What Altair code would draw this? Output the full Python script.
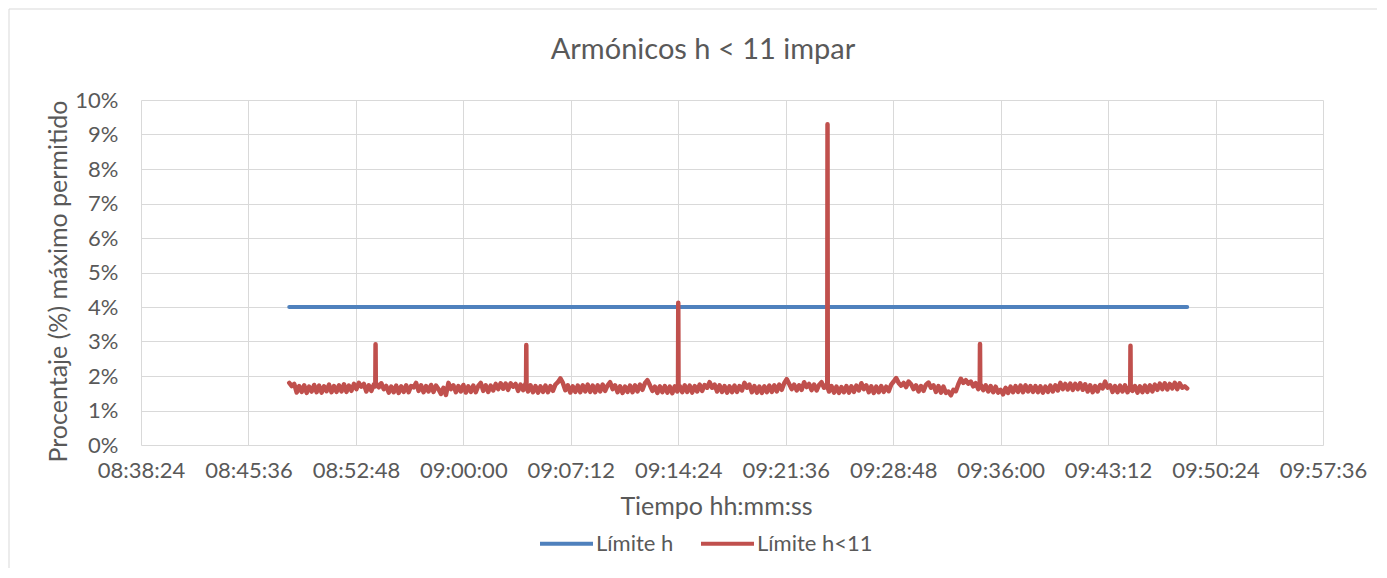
import altair as alt
import pandas as pd

# ---------------- texts ----------------
title_text = "Armónicos h < 11 impar"
x_title = "Tiempo hh:mm:ss"
y_title = "Procentaje (%) máximo permitido"
series_names = ["Límite h", "Límite h<11"]
series_colors = ["#4F81BD", "#C0504D"]

# ---------------- axes ----------------
x_ticks = ["08:38:24", "08:45:36", "08:52:48", "09:00:00", "09:07:12", "09:14:24",
           "09:21:36", "09:28:48", "09:36:00", "09:43:12", "09:50:24", "09:57:36"]
y_ticks = [0, 1, 2, 3, 4, 5, 6, 7, 8, 9, 10]

# ---------------- series: Límite h ----------------
limit_times = ["08:48:20", "09:48:30"]
limit_values = [4.0, 4.0]

# ---------------- series: Límite h<11 (sampled every 10 s) ----------------
red_start = "08:48:20"
red_step_s = 10
red_values = [
    1.80, 1.71, 1.77, 1.52, 1.71, 1.54, 1.73, 1.51, 1.69, 1.55, 1.74, 1.53, 1.72, 1.52, 1.70, 1.56, 1.75, 1.53, 1.71, 1.54, 1.73, 1.55, 1.76, 1.54, 1.72, 1.57, 1.77, 1.62, 1.80, 1.69,
    1.77, 1.55, 1.73, 1.57, 1.75, 1.78, 1.67, 1.79, 1.62, 1.71, 1.52, 1.69, 1.53, 1.72, 1.51, 1.70, 1.54, 1.73, 1.53, 1.71, 1.67, 1.80, 1.57, 1.73, 1.53, 1.71, 1.55, 1.74, 1.54, 1.72,
    1.62, 1.48, 1.66, 1.45, 1.80, 1.62, 1.73, 1.53, 1.71, 1.55, 1.74, 1.52, 1.70, 1.54, 1.72, 1.53, 1.71, 1.80, 1.57, 1.73, 1.54, 1.72, 1.58, 1.77, 1.62, 1.79, 1.63, 1.78, 1.60, 1.79,
    1.69, 1.77, 1.57, 1.75, 1.59, 1.78, 1.55, 1.73, 1.53, 1.71, 1.52, 1.70, 1.54, 1.72, 1.53, 1.71, 1.57, 1.75, 1.82, 1.93, 1.80, 1.59, 1.73, 1.52, 1.70, 1.54, 1.72, 1.53, 1.73, 1.55,
    1.75, 1.54, 1.72, 1.53, 1.73, 1.55, 1.75, 1.57, 1.73, 1.82, 1.62, 1.73, 1.53, 1.70, 1.51, 1.69, 1.54, 1.72, 1.53, 1.73, 1.55, 1.75, 1.60, 1.79, 1.88, 1.73, 1.57, 1.69, 1.51, 1.70,
    1.53, 1.71, 1.52, 1.69, 1.50, 1.70, 1.55, 1.71, 1.53, 1.73, 1.54, 1.72, 1.52, 1.71, 1.55, 1.75, 1.57, 1.74, 1.66, 1.82, 1.66, 1.75, 1.55, 1.73, 1.54, 1.71, 1.52, 1.70, 1.53, 1.72,
    1.54, 1.71, 1.58, 1.80, 1.66, 1.75, 1.53, 1.71, 1.52, 1.69, 1.51, 1.70, 1.53, 1.72, 1.54, 1.73, 1.55, 1.75, 1.60, 1.79, 1.91, 1.77, 1.62, 1.75, 1.58, 1.73, 1.60, 1.82, 1.68, 1.77,
    1.59, 1.75, 1.58, 1.74, 1.82, 1.66, 1.75, 1.55, 1.71, 1.52, 1.69, 1.51, 1.68, 1.53, 1.71, 1.52, 1.70, 1.54, 1.72, 1.58, 1.79, 1.62, 1.73, 1.53, 1.70, 1.51, 1.69, 1.53, 1.71, 1.54,
    1.69, 1.56, 1.75, 1.84, 1.94, 1.80, 1.72, 1.80, 1.68, 1.84, 1.76, 1.62, 1.73, 1.55, 1.71, 1.57, 1.75, 1.81, 1.66, 1.73, 1.54, 1.71, 1.52, 1.69, 1.51, 1.55, 1.44, 1.60, 1.56, 1.76,
    1.92, 1.80, 1.88, 1.78, 1.84, 1.70, 1.79, 1.62, 1.75, 1.59, 1.73, 1.55, 1.71, 1.53, 1.69, 1.52, 1.60, 1.47, 1.66, 1.51, 1.69, 1.53, 1.71, 1.54, 1.72, 1.53, 1.73, 1.55, 1.71, 1.54,
    1.71, 1.53, 1.70, 1.52, 1.69, 1.54, 1.72, 1.55, 1.73, 1.58, 1.80, 1.62, 1.77, 1.61, 1.78, 1.60, 1.77, 1.62, 1.79, 1.60, 1.76, 1.55, 1.73, 1.53, 1.71, 1.55, 1.74, 1.64, 1.84, 1.66,
    1.73, 1.54, 1.71, 1.53, 1.72, 1.55, 1.73, 1.53, 1.69, 1.57, 1.71, 1.52, 1.70, 1.53, 1.72, 1.54, 1.73, 1.55, 1.75, 1.60, 1.78, 1.62, 1.79, 1.61, 1.77, 1.64, 1.80, 1.62, 1.79, 1.66,
    1.70, 1.64,
]

# single-sample spikes: time, peak value and the level right before / after
spike_times = ["08:54:07", "09:04:13", "09:14:24", "09:24:24", "09:34:37", "09:44:42"]
spike_peaks = [2.92, 2.90, 4.12, 9.30, 2.93, 2.88]
spike_before = [1.70, 1.68, 1.64, 1.68, 1.70, 1.64]
spike_after = [1.72, 1.66, 1.62, 1.66, 1.68, 1.62]


def secs(hms):
    h, m, s = (int(p) for p in hms.split(":"))
    return h * 3600 + m * 60 + s


x_tick_secs = [secs(t) for t in x_ticks]

blue = pd.DataFrame({
    "t": [secs(t) for t in limit_times],
    "v": limit_values,
    "serie": series_names[0],
})

red_t = [secs(red_start) + i * red_step_s for i in range(len(red_values))]
rows = list(zip(red_t, red_values))
for ts, pk, b, a in zip(spike_times, spike_peaks, spike_before, spike_after):
    t0 = secs(ts)
    rows += [(t0 - 1, b), (t0, pk), (t0 + 1, a)]
rows.sort(key=lambda r: r[0])
red = pd.DataFrame({"t": [r[0] for r in rows], "v": [r[1] for r in rows],
                    "serie": series_names[1]})

FONT = "Lato"
GREY = "#595959"
GRID = "#D9D9D9"

x_enc = alt.X(
    "t:Q",
    scale=alt.Scale(domain=[x_tick_secs[0], x_tick_secs[-1]], nice=False, zero=False),
    axis=alt.Axis(
        values=x_tick_secs,
        labelExpr="utcFormat(datum.value * 1000, '%H:%M:%S')",
        title=x_title,
        titleX=575,
        grid=True, gridColor=GRID, domain=False, ticks=False, tickSize=0,
        labelPadding=15, titlePadding=13, labelFlush=False,
        labelFont=FONT, labelFontSize=22, labelColor=GREY,
        titleFont=FONT, titleFontSize=25, titleFontWeight="normal", titleColor=GREY,
        labelOverlap=False,
    ),
)
y_enc = alt.Y(
    "v:Q",
    scale=alt.Scale(domain=[0, 10], nice=False),
    axis=alt.Axis(
        values=y_ticks,
        labelExpr="datum.value + '%'",
        title=y_title,
        titleY=181,
        grid=True, gridColor=GRID, domain=False, ticks=False, tickSize=0,
        labelPadding=23, titlePadding=3, labelFlush=False,
        labelFont=FONT, labelFontSize=22, labelColor=GREY,
        titleFont=FONT, titleFontSize=25, titleFontWeight="normal", titleColor=GREY,
    ),
)
color_enc = alt.Color(
    "serie:N",
    scale=alt.Scale(domain=series_names, range=series_colors),
    legend=alt.Legend(
        title=None, orient="none", direction="horizontal",
        legendX=397, legendY=415,
        symbolType="stroke", symbolSize=2809, symbolStrokeWidth=4,
        labelFont=FONT, labelFontSize=22, labelColor=GREY, labelOffset=1,
        columnPadding=19, padding=0,
    ),
)

blue_line = alt.Chart(blue).mark_line(strokeWidth=4, strokeCap="round").encode(
    x=x_enc, y=y_enc, color=color_enc)
red_line = alt.Chart(red).mark_line(strokeWidth=4.5, strokeCap="round", strokeJoin="round").encode(
    x=x_enc, y=y_enc, color=color_enc)

one_row = pd.DataFrame({"k": [0]})
frame_top = alt.Chart(one_row).mark_rule(color=GRID, strokeWidth=1).encode(
    x=alt.value(-132), x2=alt.value(1236), y=alt.value(-91))
frame_left = alt.Chart(one_row).mark_rule(color=GRID, strokeWidth=1).encode(
    x=alt.value(-132), y=alt.value(-91), y2=alt.value(468))
title_mark = alt.Chart(one_row).mark_text(
    font=FONT, fontSize=29, color=GREY, align="center", baseline="middle"
).encode(x=alt.value(562), y=alt.value(-50), text=alt.value(title_text))

chart = alt.layer(blue_line, red_line, frame_top, frame_left, title_mark).properties(
    width=1182, height=345, background="white", padding=0,
).configure_view(stroke=None)

chart.save("out.html", embed_options={"renderer": "svg", "actions": False})
